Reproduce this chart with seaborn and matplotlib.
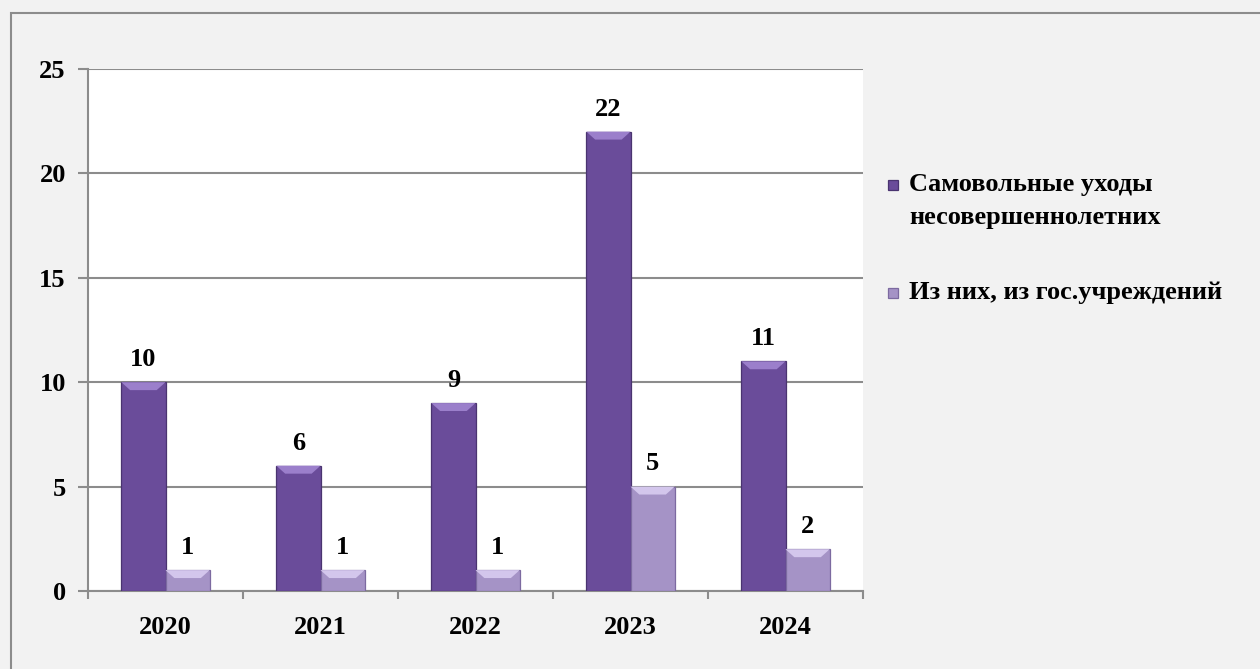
import matplotlib
matplotlib.use("Agg")
import matplotlib.pyplot as plt
import seaborn as sns
import pandas as pd
from matplotlib.patches import Rectangle, Polygon
from matplotlib.ticker import FixedLocator

years = ["2020", "2021", "2022", "2023", "2024"]
series_names = ["Самовольные уходы\nнесовершеннолетних", "Из них, из гос.учреждений"]
runaways = [10, 6, 9, 22, 11]
from_state = [1, 1, 1, 5, 2]
y_ticks = [0, 5, 10, 15, 20, 25]

colors = ["#6A4C9A", "#A593C6"]
edges = ["#4A3470", "#7C6AA0"]
tops = ["#9B7FCB", "#D3C6EC"]

df = pd.DataFrame({
    "year": years * 2,
    "value": runaways + from_state,
    "series": [series_names[0]] * len(years) + [series_names[1]] * len(years),
})

sns.set_theme(style="white")
plt.rcParams["font.family"] = ["Liberation Serif", "DejaVu Serif"]
plt.rcParams["font.weight"] = "bold"
plt.rcParams["text.color"] = "black"
plt.rcParams["xtick.color"] = "black"
plt.rcParams["ytick.color"] = "black"

FS = 19
W, H = 1260, 669

fig = plt.figure(figsize=(12.6, 6.69), dpi=100)
fig.patch.set_facecolor("#F2F2F2")
fig.patches.append(Rectangle((11 / W, -0.1), 1.2, (H - 13) / H + 0.1,
                             transform=fig.transFigure, fill=False,
                             edgecolor="#8C8C8C", linewidth=1.5, zorder=0))

ax = fig.add_axes([88 / W, (H - 591) / H, (863 - 88) / W, (591 - 69) / H])
ax.set_facecolor("white")

sns.barplot(data=df, x="year", y="value", hue="series", hue_order=series_names,
            palette=colors, saturation=1, width=0.57, gap=0, ax=ax, legend=False, zorder=3)

ax.set_ylim(0, 25)
ax.set_xlim(-0.5, len(years) - 0.5)

# bevel highlight on top of each bar (derived from bar geometry)
bevel = 0.38
for i, cont in enumerate(ax.containers):
    for p in cont:
        p.set_edgecolor(edges[i])
        p.set_linewidth(0.9)
        x0, w, h = p.get_x(), p.get_width(), p.get_height()
        inset = w * 0.2
        poly = Polygon([[x0, h], [x0 + w, h], [x0 + w - inset, h - bevel], [x0 + inset, h - bevel]],
                       closed=True, facecolor=tops[i], edgecolor="none", zorder=4)
        ax.add_patch(poly)
    ax.bar_label(cont, padding=8, fontsize=FS, fontweight="bold", color="black")

ax.set_yticks(y_ticks)
ax.set_yticklabels([str(t) for t in y_ticks], fontsize=FS, fontweight="bold", color="black")
ax.set_xticks(range(len(years)))
ax.set_xticklabels(years, fontsize=FS, fontweight="bold", color="black")
ax.xaxis.set_minor_locator(FixedLocator([i - 0.5 for i in range(len(years) + 1)]))
ax.tick_params(axis="x", which="major", length=0, pad=18)
ax.tick_params(axis="x", which="minor", length=6, width=1.5, color="#8C8C8C", bottom=True)
ax.tick_params(axis="y", length=7, width=1.5, color="#8C8C8C", left=True, pad=9)
ax.set_xlabel("")
ax.set_ylabel("")
ax.grid(axis="y", color="#8C8C8C", linewidth=1.5, zorder=0)
ax.set_axisbelow(True)
for s in ["top", "right"]:
    ax.spines[s].set_visible(False)
for s in ["left", "bottom"]:
    ax.spines[s].set_color("#8C8C8C")
    ax.spines[s].set_linewidth(1.5)

# legend (marker aligned with first text line, as in the original)
legend_y = [185, 293]
for i, name in enumerate(series_names):
    yc = legend_y[i]
    fig.patches.append(Rectangle((888 / W, (H - yc - 5) / H), 10 / W, 10 / H,
                                 transform=fig.transFigure, facecolor=colors[i],
                                 edgecolor=edges[i], linewidth=0.9))
    fig.text(909 / W, (H - yc + 12) / H, name, ha="left", va="top",
             fontsize=FS, fontweight="bold", color="black", linespacing=1.55)

fig.savefig("out.png", dpi=100, facecolor=fig.get_facecolor())
